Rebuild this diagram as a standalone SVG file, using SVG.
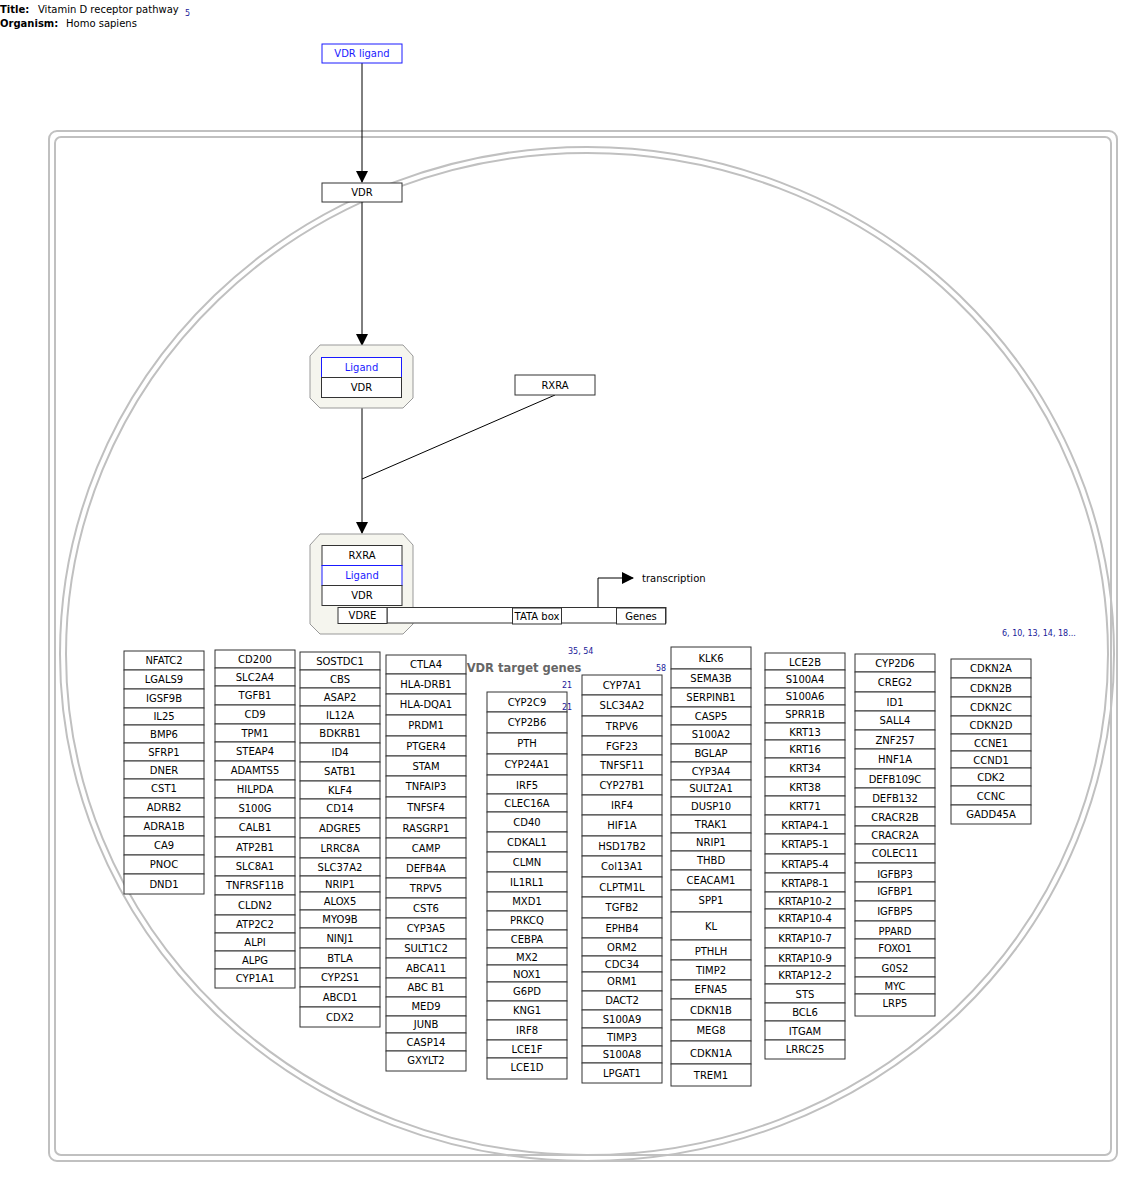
<svg xmlns="http://www.w3.org/2000/svg" width="1136" height="1178" viewBox="0 0 1136 1178">
<style>
.b{fill:#fff;stroke:#333;stroke-width:1}
.bl{fill:#fff;stroke:#1a1aff;stroke-width:1}
.t{font-family:"DejaVu Sans",sans-serif;font-size:10px;text-anchor:middle;dominant-baseline:central;fill:#000}
.tb{font-family:"DejaVu Sans",sans-serif;font-size:10px;text-anchor:middle;dominant-baseline:central;fill:#1a1aff}
.h{font-family:"DejaVu Sans",sans-serif;font-size:10px;fill:#000}
.hb{font-family:"DejaVu Sans",sans-serif;font-size:10px;font-weight:bold;fill:#000}
.ref{font-family:"DejaVu Sans",sans-serif;font-size:8px;fill:#1a1a99}
.cmp{fill:none;stroke:#c0c0c0;stroke-width:2}
.cx{fill:#f5f5ee;stroke:#999;stroke-width:1}
.ln{fill:none;stroke:#000;stroke-width:1}
</style>
<defs>
<marker id="ah" markerWidth="12" markerHeight="12" refX="11" refY="6" orient="auto" markerUnits="userSpaceOnUse">
<path d="M0,0 L12,6 L0,12 Z" fill="#000"/>
</marker>
</defs>
<rect width="1136" height="1178" fill="#fff"/>
<g id="header">
<text class="hb" x="0" y="13">Title:</text>
<text class="h" x="38" y="13">Vitamin D receptor pathway</text>
<text class="ref" x="185" y="16">5</text>
<text class="hb" x="0" y="27">Organism:</text>
<text class="h" x="66" y="27">Homo sapiens</text>
</g>
<g id="compartments">
<rect class="cmp" x="49" y="131" width="1068" height="1030" rx="8"/>
<rect class="cmp" x="55" y="137" width="1056" height="1018" rx="6"/>
<ellipse class="cmp" cx="587" cy="654" rx="527" ry="507"/>
<ellipse class="cmp" cx="587" cy="654" rx="521" ry="501"/>
</g>
<g id="connectors">
<line class="ln" x1="362" y1="63" x2="362" y2="182" marker-end="url(#ah)"/>
<line class="ln" x1="362" y1="202" x2="362" y2="345" marker-end="url(#ah)"/>
<line class="ln" x1="362" y1="408" x2="362" y2="533" marker-end="url(#ah)"/>
<line class="ln" x1="555" y1="395" x2="362" y2="479"/>
<polyline class="ln" points="598,607 598,578 633,578" marker-end="url(#ah)"/>
</g>
<g id="n-VDRligand"><rect class="bl" x="322" y="44" width="80" height="19"/><text class="tb" x="362" y="53.5">VDR ligand</text></g>
<g id="n-VDR"><rect class="b" x="322" y="183" width="80" height="19"/><text class="t" x="362" y="192.5">VDR</text></g>
<g id="n-RXRA"><rect class="b" x="515" y="375" width="80" height="20"/><text class="t" x="555" y="385">RXRA</text></g>
<g id="complex1">
<polygon class="cx" points="320,345 403,345 413,356 413,398 403,408 320,408 310,398 310,356"/>
<rect class="bl" x="321.5" y="357.5" width="80" height="20"/><text class="tb" x="361.5" y="367.5">Ligand</text>
<rect class="b" x="321.5" y="377.5" width="80" height="20"/><text class="t" x="361.5" y="387.5">VDR</text>
</g>
<g id="complex2">
<polygon class="cx" points="320,534 403,534 413,545 413,624 403,634 320,634 310,624 310,545"/>
<rect class="b" x="322" y="545.5" width="80" height="20"/><text class="t" x="362" y="555.5">RXRA</text>
<rect class="bl" x="322" y="565.5" width="80" height="20"/><text class="tb" x="362" y="575.5">Ligand</text>
<rect class="b" x="322" y="585.5" width="80" height="20"/><text class="t" x="362" y="595.5">VDR</text>
</g>
<g id="dna">
<rect class="b" x="387" y="607.5" width="279" height="15.5"/>
<g id="n-VDRE"><rect class="b" x="338" y="607.5" width="49" height="16"/><text class="t" x="362.5" y="615.5">VDRE</text></g>
<g id="n-TATA"><rect class="b" x="512.5" y="608" width="49" height="16"/><text class="t" x="537" y="616">TATA box</text></g>
<g id="n-Genes"><rect class="b" x="616.5" y="608" width="49" height="16"/><text class="t" x="641" y="616">Genes</text></g>
<text class="h" x="642" y="582">transcription</text>
</g>
<g id="col1">
<g id="n-NFATC2"><rect class="b" x="124" y="651" width="80" height="19"/><text class="t" x="164" y="660.5">NFATC2</text></g>
<g id="n-LGALS9"><rect class="b" x="124" y="670" width="80" height="19"/><text class="t" x="164" y="679.5">LGALS9</text></g>
<g id="n-IGSF9B"><rect class="b" x="124" y="689" width="80" height="19"/><text class="t" x="164" y="698.5">IGSF9B</text></g>
<g id="n-IL25"><rect class="b" x="124" y="708" width="80" height="17"/><text class="t" x="164" y="716.5">IL25</text></g>
<g id="n-BMP6"><rect class="b" x="124" y="725" width="80" height="18"/><text class="t" x="164" y="734">BMP6</text></g>
<g id="n-SFRP1"><rect class="b" x="124" y="743" width="80" height="18"/><text class="t" x="164" y="752">SFRP1</text></g>
<g id="n-DNER"><rect class="b" x="124" y="761" width="80" height="18"/><text class="t" x="164" y="770">DNER</text></g>
<g id="n-CST1"><rect class="b" x="124" y="779" width="80" height="19"/><text class="t" x="164" y="788.5">CST1</text></g>
<g id="n-ADRB2"><rect class="b" x="124" y="798" width="80" height="19"/><text class="t" x="164" y="807.5">ADRB2</text></g>
<g id="n-ADRA1B"><rect class="b" x="124" y="817" width="80" height="19"/><text class="t" x="164" y="826.5">ADRA1B</text></g>
<g id="n-CA9"><rect class="b" x="124" y="836" width="80" height="19"/><text class="t" x="164" y="845.5">CA9</text></g>
<g id="n-PNOC"><rect class="b" x="124" y="855" width="80" height="19"/><text class="t" x="164" y="864.5">PNOC</text></g>
<g id="n-DND1"><rect class="b" x="124" y="874" width="80" height="20"/><text class="t" x="164" y="884">DND1</text></g>
</g>
<g id="col2">
<g id="n-CD200"><rect class="b" x="215" y="650" width="80" height="18"/><text class="t" x="255" y="659">CD200</text></g>
<g id="n-SLC2A4"><rect class="b" x="215" y="668" width="80" height="18"/><text class="t" x="255" y="677">SLC2A4</text></g>
<g id="n-TGFB1"><rect class="b" x="215" y="686" width="80" height="19"/><text class="t" x="255" y="695.5">TGFB1</text></g>
<g id="n-CD9"><rect class="b" x="215" y="705" width="80" height="19"/><text class="t" x="255" y="714.5">CD9</text></g>
<g id="n-TPM1"><rect class="b" x="215" y="724" width="80" height="18"/><text class="t" x="255" y="733">TPM1</text></g>
<g id="n-STEAP4"><rect class="b" x="215" y="742" width="80" height="19"/><text class="t" x="255" y="751.5">STEAP4</text></g>
<g id="n-ADAMTS5"><rect class="b" x="215" y="761" width="80" height="19"/><text class="t" x="255" y="770.5">ADAMTS5</text></g>
<g id="n-HILPDA"><rect class="b" x="215" y="780" width="80" height="18"/><text class="t" x="255" y="789">HILPDA</text></g>
<g id="n-S100G"><rect class="b" x="215" y="798" width="80" height="20"/><text class="t" x="255" y="808">S100G</text></g>
<g id="n-CALB1"><rect class="b" x="215" y="818" width="80" height="19"/><text class="t" x="255" y="827.5">CALB1</text></g>
<g id="n-ATP2B1"><rect class="b" x="215" y="837" width="80" height="20"/><text class="t" x="255" y="847">ATP2B1</text></g>
<g id="n-SLC8A1"><rect class="b" x="215" y="857" width="80" height="19"/><text class="t" x="255" y="866.5">SLC8A1</text></g>
<g id="n-TNFRSF11B"><rect class="b" x="215" y="876" width="80" height="19"/><text class="t" x="255" y="885.5">TNFRSF11B</text></g>
<g id="n-CLDN2"><rect class="b" x="215" y="895" width="80" height="20"/><text class="t" x="255" y="905">CLDN2</text></g>
<g id="n-ATP2C2"><rect class="b" x="215" y="915" width="80" height="18"/><text class="t" x="255" y="924.5">ATP2C2</text></g>
<g id="n-ALPI"><rect class="b" x="215" y="933" width="80" height="18"/><text class="t" x="255" y="942">ALPI</text></g>
<g id="n-ALPG"><rect class="b" x="215" y="951" width="80" height="18"/><text class="t" x="255" y="960">ALPG</text></g>
<g id="n-CYP1A1"><rect class="b" x="215" y="969" width="80" height="19"/><text class="t" x="255" y="978.5">CYP1A1</text></g>
</g>
<g id="col3">
<g id="n-SOSTDC1"><rect class="b" x="300" y="652" width="80" height="18"/><text class="t" x="340" y="661">SOSTDC1</text></g>
<g id="n-CBS"><rect class="b" x="300" y="670" width="80" height="18"/><text class="t" x="340" y="679.5">CBS</text></g>
<g id="n-ASAP2"><rect class="b" x="300" y="688" width="80" height="18"/><text class="t" x="340" y="697">ASAP2</text></g>
<g id="n-IL12A"><rect class="b" x="300" y="706" width="80" height="18"/><text class="t" x="340" y="715">IL12A</text></g>
<g id="n-BDKRB1"><rect class="b" x="300" y="724" width="80" height="19"/><text class="t" x="340" y="733.5">BDKRB1</text></g>
<g id="n-ID4"><rect class="b" x="300" y="743" width="80" height="19"/><text class="t" x="340" y="752.5">ID4</text></g>
<g id="n-SATB1"><rect class="b" x="300" y="762" width="80" height="19"/><text class="t" x="340" y="771.5">SATB1</text></g>
<g id="n-KLF4"><rect class="b" x="300" y="781" width="80" height="18"/><text class="t" x="340" y="790">KLF4</text></g>
<g id="n-CD14"><rect class="b" x="300" y="799" width="80" height="19"/><text class="t" x="340" y="808.5">CD14</text></g>
<g id="n-ADGRE5"><rect class="b" x="300" y="818" width="80" height="20"/><text class="t" x="340" y="828">ADGRE5</text></g>
<g id="n-LRRC8A"><rect class="b" x="300" y="838" width="80" height="20"/><text class="t" x="340" y="848">LRRC8A</text></g>
<g id="n-SLC37A2"><rect class="b" x="300" y="858" width="80" height="18"/><text class="t" x="340" y="867.5">SLC37A2</text></g>
<g id="n-c3-NRIP1"><rect class="b" x="300" y="876" width="80" height="16"/><text class="t" x="340" y="884">NRIP1</text></g>
<g id="n-ALOX5"><rect class="b" x="300" y="892" width="80" height="18"/><text class="t" x="340" y="901">ALOX5</text></g>
<g id="n-MYO9B"><rect class="b" x="300" y="910" width="80" height="18"/><text class="t" x="340" y="919">MYO9B</text></g>
<g id="n-NINJ1"><rect class="b" x="300" y="928" width="80" height="20"/><text class="t" x="340" y="938">NINJ1</text></g>
<g id="n-BTLA"><rect class="b" x="300" y="948" width="80" height="20"/><text class="t" x="340" y="958">BTLA</text></g>
<g id="n-CYP2S1"><rect class="b" x="300" y="968" width="80" height="19"/><text class="t" x="340" y="977.5">CYP2S1</text></g>
<g id="n-ABCD1"><rect class="b" x="300" y="987" width="80" height="20"/><text class="t" x="340" y="997">ABCD1</text></g>
<g id="n-CDX2"><rect class="b" x="300" y="1007" width="80" height="20"/><text class="t" x="340" y="1017">CDX2</text></g>
</g>
<g id="col4">
<g id="n-CTLA4"><rect class="b" x="386" y="655" width="80" height="19"/><text class="t" x="426" y="664.5">CTLA4</text></g>
<g id="n-HLA-DRB1"><rect class="b" x="386" y="674" width="80" height="20"/><text class="t" x="426" y="684">HLA-DRB1</text></g>
<g id="n-HLA-DQA1"><rect class="b" x="386" y="694" width="80" height="21"/><text class="t" x="426" y="704.5">HLA-DQA1</text></g>
<g id="n-PRDM1"><rect class="b" x="386" y="715" width="80" height="21"/><text class="t" x="426" y="725.5">PRDM1</text></g>
<g id="n-PTGER4"><rect class="b" x="386" y="736" width="80" height="20"/><text class="t" x="426" y="746.5">PTGER4</text></g>
<g id="n-STAM"><rect class="b" x="386" y="756" width="80" height="20"/><text class="t" x="426" y="766">STAM</text></g>
<g id="n-TNFAIP3"><rect class="b" x="386" y="776" width="80" height="21"/><text class="t" x="426" y="786.5">TNFAIP3</text></g>
<g id="n-TNFSF4"><rect class="b" x="386" y="797" width="80" height="21"/><text class="t" x="426" y="807.5">TNFSF4</text></g>
<g id="n-RASGRP1"><rect class="b" x="386" y="818" width="80" height="20"/><text class="t" x="426" y="828">RASGRP1</text></g>
<g id="n-CAMP"><rect class="b" x="386" y="838" width="80" height="20"/><text class="t" x="426" y="848.5">CAMP</text></g>
<g id="n-DEFB4A"><rect class="b" x="386" y="858" width="80" height="20"/><text class="t" x="426" y="868">DEFB4A</text></g>
<g id="n-TRPV5"><rect class="b" x="386" y="878" width="80" height="20"/><text class="t" x="426" y="888">TRPV5</text></g>
<g id="n-CST6"><rect class="b" x="386" y="898" width="80" height="20"/><text class="t" x="426" y="908">CST6</text></g>
<g id="n-CYP3A5"><rect class="b" x="386" y="918" width="80" height="21"/><text class="t" x="426" y="928.5">CYP3A5</text></g>
<g id="n-SULT1C2"><rect class="b" x="386" y="939" width="80" height="19"/><text class="t" x="426" y="948.5">SULT1C2</text></g>
<g id="n-ABCA11"><rect class="b" x="386" y="958" width="80" height="20"/><text class="t" x="426" y="968">ABCA11</text></g>
<g id="n-ABCB1"><rect class="b" x="386" y="978" width="80" height="19"/><text class="t" x="426" y="987.5">ABC B1</text></g>
<g id="n-MED9"><rect class="b" x="386" y="997" width="80" height="19"/><text class="t" x="426" y="1006.5">MED9</text></g>
<g id="n-JUNB"><rect class="b" x="386" y="1016" width="80" height="17"/><text class="t" x="426" y="1024.5">JUNB</text></g>
<g id="n-CASP14"><rect class="b" x="386" y="1033" width="80" height="18"/><text class="t" x="426" y="1042">CASP14</text></g>
<g id="n-GXYLT2"><rect class="b" x="386" y="1051" width="80" height="20"/><text class="t" x="426" y="1060">GXYLT2</text></g>
</g>
<g id="col5">
<g id="n-CYP2C9"><rect class="b" x="487" y="692" width="80" height="20"/><text class="t" x="527" y="702">CYP2C9</text></g>
<g id="n-CYP2B6"><rect class="b" x="487" y="712" width="80" height="21"/><text class="t" x="527" y="722.5">CYP2B6</text></g>
<g id="n-PTH"><rect class="b" x="487" y="733" width="80" height="21"/><text class="t" x="527" y="743.5">PTH</text></g>
<g id="n-CYP24A1"><rect class="b" x="487" y="754" width="80" height="21"/><text class="t" x="527" y="764.5">CYP24A1</text></g>
<g id="n-IRF5"><rect class="b" x="487" y="775" width="80" height="19"/><text class="t" x="527" y="785">IRF5</text></g>
<g id="n-CLEC16A"><rect class="b" x="487" y="794" width="80" height="18"/><text class="t" x="527" y="803">CLEC16A</text></g>
<g id="n-CD40"><rect class="b" x="487" y="812" width="80" height="20"/><text class="t" x="527" y="822">CD40</text></g>
<g id="n-CDKAL1"><rect class="b" x="487" y="832" width="80" height="20"/><text class="t" x="527" y="842">CDKAL1</text></g>
<g id="n-CLMN"><rect class="b" x="487" y="852" width="80" height="20"/><text class="t" x="527" y="862">CLMN</text></g>
<g id="n-IL1RL1"><rect class="b" x="487" y="872" width="80" height="20"/><text class="t" x="527" y="882.5">IL1RL1</text></g>
<g id="n-MXD1"><rect class="b" x="487" y="892" width="80" height="19"/><text class="t" x="527" y="901.5">MXD1</text></g>
<g id="n-PRKCQ"><rect class="b" x="487" y="911" width="80" height="19"/><text class="t" x="527" y="920.5">PRKCQ</text></g>
<g id="n-CEBPA"><rect class="b" x="487" y="930" width="80" height="18"/><text class="t" x="527" y="939">CEBPA</text></g>
<g id="n-MX2"><rect class="b" x="487" y="948" width="80" height="17"/><text class="t" x="527" y="957">MX2</text></g>
<g id="n-NOX1"><rect class="b" x="487" y="965" width="80" height="17"/><text class="t" x="527" y="974">NOX1</text></g>
<g id="n-G6PD"><rect class="b" x="487" y="982" width="80" height="19"/><text class="t" x="527" y="991.5">G6PD</text></g>
<g id="n-KNG1"><rect class="b" x="487" y="1001" width="80" height="19"/><text class="t" x="527" y="1010.5">KNG1</text></g>
<g id="n-IRF8"><rect class="b" x="487" y="1020" width="80" height="20"/><text class="t" x="527" y="1030">IRF8</text></g>
<g id="n-LCE1F"><rect class="b" x="487" y="1040" width="80" height="18"/><text class="t" x="527" y="1049">LCE1F</text></g>
<g id="n-LCE1D"><rect class="b" x="487" y="1058" width="80" height="21"/><text class="t" x="527" y="1067.5">LCE1D</text></g>
</g>
<g id="col6">
<g id="n-CYP7A1"><rect class="b" x="582" y="675" width="80" height="20"/><text class="t" x="622" y="685">CYP7A1</text></g>
<g id="n-SLC34A2"><rect class="b" x="582" y="695" width="80" height="21"/><text class="t" x="622" y="705.5">SLC34A2</text></g>
<g id="n-TRPV6"><rect class="b" x="582" y="716" width="80" height="20"/><text class="t" x="622" y="726">TRPV6</text></g>
<g id="n-FGF23"><rect class="b" x="582" y="736" width="80" height="19"/><text class="t" x="622" y="746">FGF23</text></g>
<g id="n-TNFSF11"><rect class="b" x="582" y="755" width="80" height="20"/><text class="t" x="622" y="765">TNFSF11</text></g>
<g id="n-CYP27B1"><rect class="b" x="582" y="775" width="80" height="20"/><text class="t" x="622" y="785">CYP27B1</text></g>
<g id="n-IRF4"><rect class="b" x="582" y="795" width="80" height="20"/><text class="t" x="622" y="805">IRF4</text></g>
<g id="n-HIF1A"><rect class="b" x="582" y="815" width="80" height="21"/><text class="t" x="622" y="825.5">HIF1A</text></g>
<g id="n-HSD17B2"><rect class="b" x="582" y="836" width="80" height="20"/><text class="t" x="622" y="846">HSD17B2</text></g>
<g id="n-Col13A1"><rect class="b" x="582" y="856" width="80" height="21"/><text class="t" x="622" y="866.5">Col13A1</text></g>
<g id="n-CLPTM1L"><rect class="b" x="582" y="877" width="80" height="20"/><text class="t" x="622" y="887">CLPTM1L</text></g>
<g id="n-TGFB2"><rect class="b" x="582" y="897" width="80" height="21"/><text class="t" x="622" y="907.5">TGFB2</text></g>
<g id="n-EPHB4"><rect class="b" x="582" y="918" width="80" height="20"/><text class="t" x="622" y="928">EPHB4</text></g>
<g id="n-ORM2"><rect class="b" x="582" y="938" width="80" height="18"/><text class="t" x="622" y="947.5">ORM2</text></g>
<g id="n-CDC34"><rect class="b" x="582" y="956" width="80" height="16"/><text class="t" x="622" y="964">CDC34</text></g>
<g id="n-ORM1"><rect class="b" x="582" y="972" width="80" height="19"/><text class="t" x="622" y="981.5">ORM1</text></g>
<g id="n-DACT2"><rect class="b" x="582" y="991" width="80" height="19"/><text class="t" x="622" y="1000.5">DACT2</text></g>
<g id="n-S100A9"><rect class="b" x="582" y="1010" width="80" height="18"/><text class="t" x="622" y="1019">S100A9</text></g>
<g id="n-TIMP3"><rect class="b" x="582" y="1028" width="80" height="18"/><text class="t" x="622" y="1037">TIMP3</text></g>
<g id="n-S100A8"><rect class="b" x="582" y="1046" width="80" height="17"/><text class="t" x="622" y="1054.5">S100A8</text></g>
<g id="n-LPGAT1"><rect class="b" x="582" y="1063" width="80" height="20"/><text class="t" x="622" y="1073">LPGAT1</text></g>
</g>
<g id="col7">
<g id="n-KLK6"><rect class="b" x="671" y="647" width="80" height="22"/><text class="t" x="711" y="658.5">KLK6</text></g>
<g id="n-SEMA3B"><rect class="b" x="671" y="669" width="80" height="19"/><text class="t" x="711" y="678">SEMA3B</text></g>
<g id="n-SERPINB1"><rect class="b" x="671" y="688" width="80" height="19"/><text class="t" x="711" y="697.5">SERPINB1</text></g>
<g id="n-CASP5"><rect class="b" x="671" y="707" width="80" height="18"/><text class="t" x="711" y="716">CASP5</text></g>
<g id="n-S100A2"><rect class="b" x="671" y="725" width="80" height="19"/><text class="t" x="711" y="734.5">S100A2</text></g>
<g id="n-BGLAP"><rect class="b" x="671" y="744" width="80" height="18"/><text class="t" x="711" y="753">BGLAP</text></g>
<g id="n-CYP3A4"><rect class="b" x="671" y="762" width="80" height="18"/><text class="t" x="711" y="771.5">CYP3A4</text></g>
<g id="n-SULT2A1"><rect class="b" x="671" y="780" width="80" height="17"/><text class="t" x="711" y="788.5">SULT2A1</text></g>
<g id="n-DUSP10"><rect class="b" x="671" y="797" width="80" height="18"/><text class="t" x="711" y="806">DUSP10</text></g>
<g id="n-TRAK1"><rect class="b" x="671" y="815" width="80" height="18"/><text class="t" x="711" y="824">TRAK1</text></g>
<g id="n-c7-NRIP1"><rect class="b" x="671" y="833" width="80" height="18"/><text class="t" x="711" y="842">NRIP1</text></g>
<g id="n-THBD"><rect class="b" x="671" y="851" width="80" height="19"/><text class="t" x="711" y="860">THBD</text></g>
<g id="n-CEACAM1"><rect class="b" x="671" y="870" width="80" height="20"/><text class="t" x="711" y="880">CEACAM1</text></g>
<g id="n-SPP1"><rect class="b" x="671" y="890" width="80" height="22"/><text class="t" x="711" y="900">SPP1</text></g>
<g id="n-KL"><rect class="b" x="671" y="912" width="80" height="28"/><text class="t" x="711" y="926">KL</text></g>
<g id="n-PTHLH"><rect class="b" x="671" y="940" width="80" height="20"/><text class="t" x="711" y="951">PTHLH</text></g>
<g id="n-TIMP2"><rect class="b" x="671" y="960" width="80" height="20"/><text class="t" x="711" y="970">TIMP2</text></g>
<g id="n-EFNA5"><rect class="b" x="671" y="980" width="80" height="19"/><text class="t" x="711" y="989">EFNA5</text></g>
<g id="n-CDKN1B"><rect class="b" x="671" y="999" width="80" height="21"/><text class="t" x="711" y="1010">CDKN1B</text></g>
<g id="n-MEG8"><rect class="b" x="671" y="1020" width="80" height="21"/><text class="t" x="711" y="1030">MEG8</text></g>
<g id="n-CDKN1A"><rect class="b" x="671" y="1041" width="80" height="23"/><text class="t" x="711" y="1053">CDKN1A</text></g>
<g id="n-TREM1"><rect class="b" x="671" y="1064" width="80" height="22"/><text class="t" x="711" y="1075">TREM1</text></g>
</g>
<g id="col8">
<g id="n-LCE2B"><rect class="b" x="765" y="653" width="80" height="17"/><text class="t" x="805" y="662">LCE2B</text></g>
<g id="n-S100A4"><rect class="b" x="765" y="670" width="80" height="18"/><text class="t" x="805" y="679">S100A4</text></g>
<g id="n-S100A6"><rect class="b" x="765" y="688" width="80" height="17"/><text class="t" x="805" y="696.5">S100A6</text></g>
<g id="n-SPRR1B"><rect class="b" x="765" y="705" width="80" height="18"/><text class="t" x="805" y="714.5">SPRR1B</text></g>
<g id="n-KRT13"><rect class="b" x="765" y="723" width="80" height="17"/><text class="t" x="805" y="732">KRT13</text></g>
<g id="n-KRT16"><rect class="b" x="765" y="740" width="80" height="18"/><text class="t" x="805" y="749">KRT16</text></g>
<g id="n-KRT34"><rect class="b" x="765" y="758" width="80" height="19"/><text class="t" x="805" y="768">KRT34</text></g>
<g id="n-KRT38"><rect class="b" x="765" y="777" width="80" height="19"/><text class="t" x="805" y="787">KRT38</text></g>
<g id="n-KRT71"><rect class="b" x="765" y="796" width="80" height="19"/><text class="t" x="805" y="806">KRT71</text></g>
<g id="n-KRTAP4-1"><rect class="b" x="765" y="815" width="80" height="19"/><text class="t" x="805" y="825">KRTAP4-1</text></g>
<g id="n-KRTAP5-1"><rect class="b" x="765" y="834" width="80" height="20"/><text class="t" x="805" y="844">KRTAP5-1</text></g>
<g id="n-KRTAP5-4"><rect class="b" x="765" y="854" width="80" height="19"/><text class="t" x="805" y="864">KRTAP5-4</text></g>
<g id="n-KRTAP8-1"><rect class="b" x="765" y="873" width="80" height="19"/><text class="t" x="805" y="883">KRTAP8-1</text></g>
<g id="n-KRTAP10-2"><rect class="b" x="765" y="892" width="80" height="17"/><text class="t" x="805" y="901">KRTAP10-2</text></g>
<g id="n-KRTAP10-4"><rect class="b" x="765" y="909" width="80" height="19"/><text class="t" x="805" y="918">KRTAP10-4</text></g>
<g id="n-KRTAP10-7"><rect class="b" x="765" y="928" width="80" height="20"/><text class="t" x="805" y="938">KRTAP10-7</text></g>
<g id="n-KRTAP10-9"><rect class="b" x="765" y="948" width="80" height="18"/><text class="t" x="805" y="958">KRTAP10-9</text></g>
<g id="n-KRTAP12-2"><rect class="b" x="765" y="966" width="80" height="18"/><text class="t" x="805" y="975">KRTAP12-2</text></g>
<g id="n-STS"><rect class="b" x="765" y="984" width="80" height="19"/><text class="t" x="805" y="994">STS</text></g>
<g id="n-BCL6"><rect class="b" x="765" y="1003" width="80" height="18"/><text class="t" x="805" y="1012">BCL6</text></g>
<g id="n-ITGAM"><rect class="b" x="765" y="1021" width="80" height="19"/><text class="t" x="805" y="1031">ITGAM</text></g>
<g id="n-LRRC25"><rect class="b" x="765" y="1040" width="80" height="19"/><text class="t" x="805" y="1049.5">LRRC25</text></g>
</g>
<g id="col9">
<g id="n-CYP2D6"><rect class="b" x="855" y="654" width="80" height="18"/><text class="t" x="895" y="663">CYP2D6</text></g>
<g id="n-CREG2"><rect class="b" x="855" y="672" width="80" height="20"/><text class="t" x="895" y="682">CREG2</text></g>
<g id="n-ID1"><rect class="b" x="855" y="692" width="80" height="19"/><text class="t" x="895" y="702">ID1</text></g>
<g id="n-SALL4"><rect class="b" x="855" y="711" width="80" height="19"/><text class="t" x="895" y="720">SALL4</text></g>
<g id="n-ZNF257"><rect class="b" x="855" y="730" width="80" height="19"/><text class="t" x="895" y="740">ZNF257</text></g>
<g id="n-HNF1A"><rect class="b" x="855" y="749" width="80" height="20"/><text class="t" x="895" y="759">HNF1A</text></g>
<g id="n-DEFB109C"><rect class="b" x="855" y="769" width="80" height="19"/><text class="t" x="895" y="779">DEFB109C</text></g>
<g id="n-DEFB132"><rect class="b" x="855" y="788" width="80" height="19"/><text class="t" x="895" y="798">DEFB132</text></g>
<g id="n-CRACR2B"><rect class="b" x="855" y="807" width="80" height="19"/><text class="t" x="895" y="817">CRACR2B</text></g>
<g id="n-CRACR2A"><rect class="b" x="855" y="826" width="80" height="18"/><text class="t" x="895" y="835">CRACR2A</text></g>
<g id="n-COLEC11"><rect class="b" x="855" y="844" width="80" height="19"/><text class="t" x="895" y="853.5">COLEC11</text></g>
<g id="n-IGFBP3"><rect class="b" x="855" y="863" width="80" height="19"/><text class="t" x="895" y="874">IGFBP3</text></g>
<g id="n-IGFBP1"><rect class="b" x="855" y="882" width="80" height="19"/><text class="t" x="895" y="891">IGFBP1</text></g>
<g id="n-IGFBP5"><rect class="b" x="855" y="901" width="80" height="20"/><text class="t" x="895" y="911">IGFBP5</text></g>
<g id="n-PPARD"><rect class="b" x="855" y="921" width="80" height="18"/><text class="t" x="895" y="931">PPARD</text></g>
<g id="n-FOXO1"><rect class="b" x="855" y="939" width="80" height="19"/><text class="t" x="895" y="948">FOXO1</text></g>
<g id="n-G0S2"><rect class="b" x="855" y="958" width="80" height="19"/><text class="t" x="895" y="968">G0S2</text></g>
<g id="n-MYC"><rect class="b" x="855" y="977" width="80" height="17"/><text class="t" x="895" y="986">MYC</text></g>
<g id="n-LRP5"><rect class="b" x="855" y="994" width="80" height="22"/><text class="t" x="895" y="1003">LRP5</text></g>
</g>
<g id="col10">
<g id="n-CDKN2A"><rect class="b" x="951" y="659" width="80" height="19"/><text class="t" x="991" y="668.5">CDKN2A</text></g>
<g id="n-CDKN2B"><rect class="b" x="951" y="678" width="80" height="19"/><text class="t" x="991" y="688">CDKN2B</text></g>
<g id="n-CDKN2C"><rect class="b" x="951" y="697" width="80" height="19"/><text class="t" x="991" y="707">CDKN2C</text></g>
<g id="n-CDKN2D"><rect class="b" x="951" y="716" width="80" height="18"/><text class="t" x="991" y="725">CDKN2D</text></g>
<g id="n-CCNE1"><rect class="b" x="951" y="734" width="80" height="17"/><text class="t" x="991" y="743">CCNE1</text></g>
<g id="n-CCND1"><rect class="b" x="951" y="751" width="80" height="17"/><text class="t" x="991" y="760">CCND1</text></g>
<g id="n-CDK2"><rect class="b" x="951" y="768" width="80" height="18"/><text class="t" x="991" y="777">CDK2</text></g>
<g id="n-CCNC"><rect class="b" x="951" y="786" width="80" height="19"/><text class="t" x="991" y="796">CCNC</text></g>
<g id="n-GADD45A"><rect class="b" x="951" y="805" width="80" height="19"/><text class="t" x="991" y="814">GADD45A</text></g>
</g>
<g id="label-target">
<text x="524" y="672" style="font-family:'DejaVu Sans',sans-serif;font-size:11.5px;font-weight:bold;fill:#666;text-anchor:middle">VDR target genes</text>
<text class="ref" x="568" y="654">35, 54</text>
<text class="ref" x="562" y="688">21</text>
<text class="ref" x="562" y="710">21</text>
<text class="ref" x="656" y="671">58</text>
<text class="ref" x="1002" y="636">6, 10, 13, 14, 18...</text>
</g>
</svg>
